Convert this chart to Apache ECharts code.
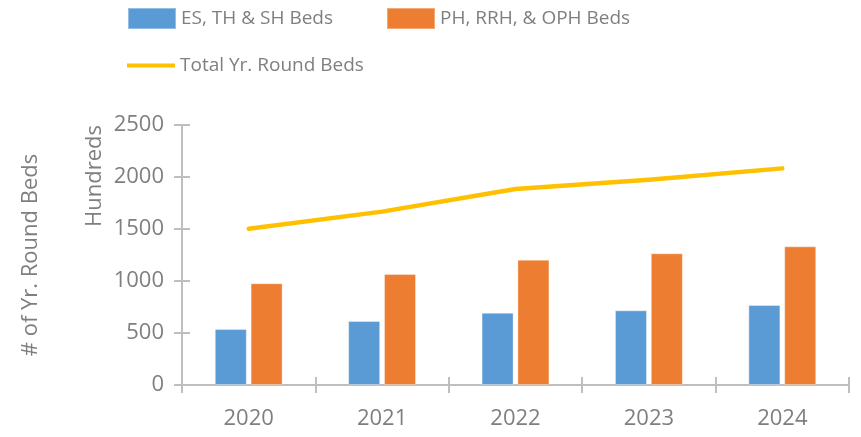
<!DOCTYPE html>
<html>
<head>
<meta charset="utf-8">
<script src="https://cdn.jsdelivr.net/npm/echarts@6/dist/echarts.min.js"></script>
<style>html,body{margin:0;padding:0;background:#fff}#c{width:861px;height:437px}</style>
</head>
<body>
<div id="c"></div>
<script>
const categories = ['2020', '2021', '2022', '2023', '2024'];
const esThShBeds = [538, 615, 695, 718, 769];
const phRrhOphBeds = [978, 1067, 1205, 1266, 1333];
const totalYrRoundBeds = [1503, 1667, 1885, 1974, 2083];
const seriesNames = ['ES, TH & SH Beds', 'PH, RRH, & OPH Beds', 'Total Yr. Round Beds'];
const yTicks = { min: 0, max: 2500, interval: 500 };

const FONT = 'Open Sans';
const GREY = '#7f7f7f';
const AXIS = '#bfbfbf';

const chart = echarts.init(document.getElementById('c'), null, { renderer: 'canvas' });
const grid = { left: 182, right: 12, top: 125, bottom: 52, containLabel: false };

const legendText = { color: GREY, fontFamily: FONT, fontSize: 19 };

chart.setOption({
  animation: false,
  backgroundColor: '#fff',
  grid: grid,
  legend: [
    { data: [seriesNames[0]], left: 127, top: 7, itemWidth: 48, itemHeight: 21, icon: 'rect', textStyle: legendText, padding: 0 },
    { data: [seriesNames[1]], left: 386, top: 7, itemWidth: 48, itemHeight: 21, icon: 'rect', textStyle: legendText, padding: 0 },
    { data: [seriesNames[2]], left: 127, top: 56, itemWidth: 48, itemHeight: 21, icon: 'path://M0,9H48V13H0Z', textStyle: legendText, padding: 0 }
  ],
  xAxis: [
    {
      type: 'category', data: categories, position: 'bottom',
      axisLine: { lineStyle: { color: AXIS, width: 2 } },
      axisTick: { show: true, length: 8, lineStyle: { color: AXIS, width: 2 } },
      axisLabel: { color: GREY, fontFamily: FONT, fontSize: 22, margin: 23 }
    },
    {
      type: 'category', data: categories, position: 'bottom', gridIndex: 0,
      axisLine: { show: false },
      axisTick: { show: true, inside: true, length: 8, lineStyle: { color: AXIS, width: 2 } },
      axisLabel: { show: false }
    }
  ],
  yAxis: [
    {
      type: 'value', min: yTicks.min, max: yTicks.max, interval: yTicks.interval,
      name: '# of Yr. Round Beds', nameLocation: 'middle', nameGap: 140, nameRotate: 90,
      nameTextStyle: { color: GREY, fontFamily: FONT, fontSize: 22 },
      axisLine: { show: true, lineStyle: { color: AXIS, width: 2 } },
      axisTick: { show: true, length: 8, lineStyle: { color: AXIS, width: 2 } },
      splitLine: { show: false },
      axisLabel: { color: GREY, fontFamily: FONT, fontSize: 22, margin: 18, formatter: function (v) { return String(v); } }
    },
    {
      type: 'value', min: yTicks.min, max: yTicks.max, interval: yTicks.interval, position: 'left',
      axisLine: { show: false },
      axisTick: { show: true, inside: true, length: 8, lineStyle: { color: AXIS, width: 2 } },
      splitLine: { show: false },
      axisLabel: { show: false }
    }
  ],
  graphic: [
    { type: 'text', x: 95, y: 125, rotation: Math.PI / 2,
      style: { text: 'Hundreds', fill: GREY, font: '22px "Open Sans"', align: 'right', verticalAlign: 'middle' } }
  ],
  series: [
    { name: seriesNames[0], type: 'bar', data: esThShBeds, barWidth: 32, barGap: '12%',
      itemStyle: { color: '#5b9bd5', borderColor: 'rgba(255,255,255,0.35)', borderWidth: 1 } },
    { name: seriesNames[1], type: 'bar', data: phRrhOphBeds, barWidth: 32, barGap: '12%',
      itemStyle: { color: '#ed7d31', borderColor: 'rgba(255,255,255,0.35)', borderWidth: 1 } },
    { name: seriesNames[2], type: 'line', data: totalYrRoundBeds, showSymbol: false, symbol: 'none',
      lineStyle: { color: '#ffc000', width: 4.5, cap: 'round', join: 'round' },
      itemStyle: { color: '#ffc000' } }
  ]
});
</script>
</body>
</html>
